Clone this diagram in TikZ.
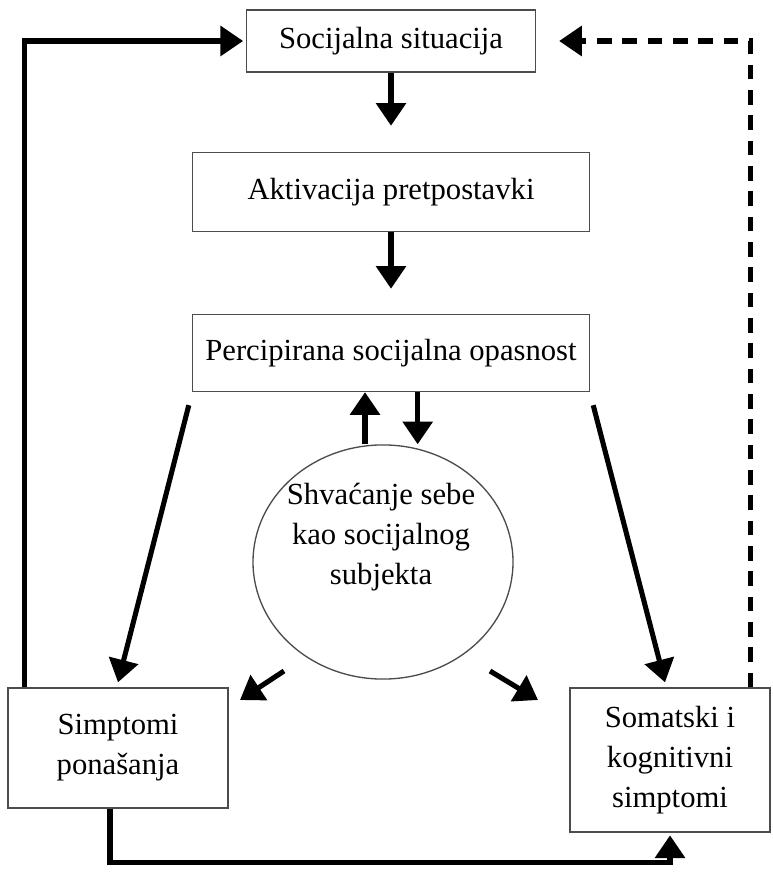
\documentclass[tikz,border=0pt]{standalone}
\usepackage{fontspec}
\setmainfont{Liberation Serif}
\usetikzlibrary{positioning}
\usetikzlibrary{shapes.geometric}
\usetikzlibrary{arrows.meta}

\begin{document}
\begin{tikzpicture}[
  x=0.375pt, y=-0.375pt,
  font=\fontsize{11.5}{15}\selectfont,
  box/.style={draw=black!70, line width=0.5pt, align=center, inner sep=0pt},
  arrow/.style={-{Triangle[length=8.5pt, width=11pt]}, line width=1.9pt},
  dashedarrow/.style={arrow, dash pattern=on 5.5pt off 4pt}
]
\useasboundingbox (0,0) rectangle (772,879);

% Main chain
\node[box, minimum width=108.4pt, minimum height=23.3pt] (soc) at (391,41) {Socijalna situacija};
\node[box, minimum width=148.9pt, minimum height=29.6pt] (akt) at (391,192) {Aktivacija pretpostavki};
\node[box, minimum width=148.9pt, minimum height=28.9pt] (per) at (391,353) {Percipirana socijalna opasnost};

% Self as social object
\node[draw=black!70, line width=0.5pt, ellipse, minimum width=97.5pt, minimum height=87.8pt] (self) at (383,562) {};
\node[align=center] (selflbl) at (381,537) {Shvaćanje sebe\\kao socijalnog\\subjekta};

% Symptoms
\node[box, minimum width=82.5pt, minimum height=45pt] (sym) at (118,748) {Simptomi\\ponašanja};
\node[box, minimum width=75pt, minimum height=54pt] (som) at (670,760) {Somatski i\\kognitivni\\simptomi};

\draw[arrow, shorten >=9.8pt] (soc) -- (akt);
\draw[arrow, shorten >=9.4pt] (akt) -- (per);
\draw[arrow] ([xshift=10pt]per.south) -- ([xshift=10pt]per.south |- self.north);
\draw[arrow] ([xshift=-9.75pt]per.south |- self.north) -- ([xshift=-9.75pt]per.south);

\draw[arrow] ([shift={(-3,13)}]per.south west) -- ([shift={(0,-5)}]sym.north);
\draw[arrow] ([shift={(3,13)}]per.south east) -- ([shift={(-5,-5)}]som.north);
\draw[arrow] ([shift={(-99,109)}]self.center) -- ([shift={(-143,138)}]self.center);
\draw[arrow] ([shift={(107,109)}]self.center) -- ([shift={(155,138)}]self.center);

% Feedback loops
\draw[arrow, shorten >=1pt] ([xshift=6.4pt]sym.north west) |- (soc.west);
\draw[arrow, shorten >=1pt] ([xshift=-3pt]sym.south) -- ++(0,54) -| (som.south);
\draw[dashedarrow, shorten >=8.6pt] ([xshift=-7.5pt]som.north east) |- (soc.east);

\end{tikzpicture}
\end{document}
